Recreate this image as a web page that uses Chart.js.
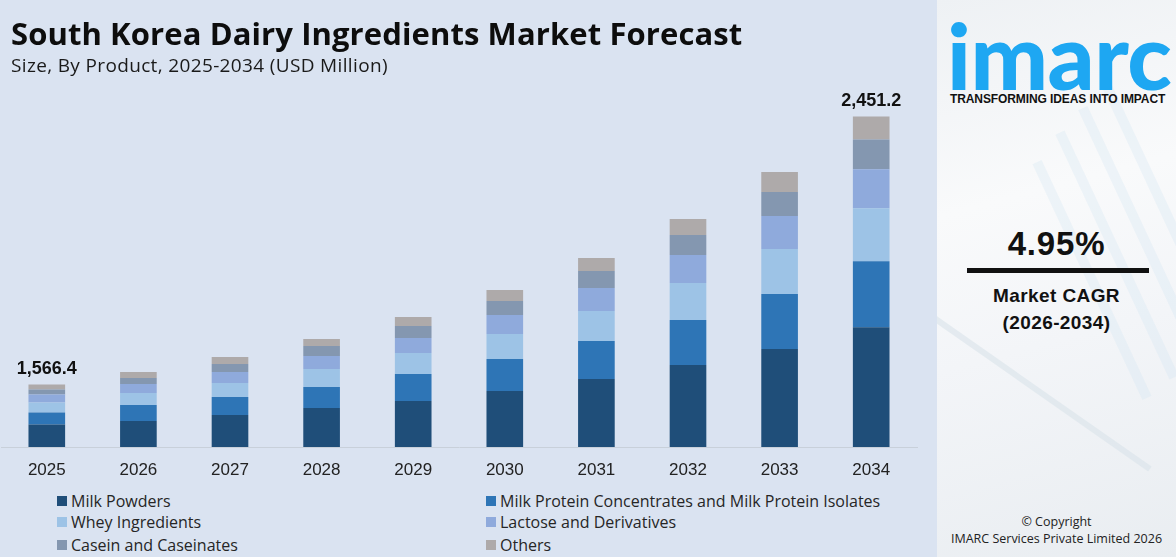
<!DOCTYPE html>
<html>
<head>
<meta charset="utf-8">
<script src="https://cdn.jsdelivr.net/npm/chart.js@4.4.1/dist/chart.umd.min.js"></script>
<style>
html,body{margin:0;padding:0;width:1176px;height:557px;overflow:hidden;background:#fff;font-family:"Liberation Sans",Arial,sans-serif;}
#left{position:absolute;left:0;top:0;width:937px;height:557px;background:#dae3f1;}
#chartWrap{position:absolute;left:0;top:0;width:937px;height:480px;}
#title{position:absolute;left:11px;top:18px;font-family:"Open Sans",sans-serif;font-weight:700;font-size:31px;line-height:1;color:#0d0d0d;white-space:nowrap;letter-spacing:0.1px;}
#subtitle{position:absolute;left:11px;top:56px;font-family:"Open Sans",sans-serif;font-size:19px;line-height:1;color:#1a1a1a;white-space:nowrap;letter-spacing:0.35px;}
.lg{position:absolute;height:20px;line-height:20px;font-family:"Open Sans",sans-serif;font-size:16px;color:#262626;white-space:nowrap;}
.lg i{position:absolute;left:0;top:5px;width:10px;height:10px;}
.lg span{position:absolute;left:14px;top:0;}
#right{position:absolute;left:937px;top:0;width:239px;height:557px;overflow:hidden;
  background:linear-gradient(165deg,#eef1f4 0%,#f9fafb 35%,#f3f5f8 60%,#e9edf1 100%);}
.deco{position:absolute;background:#cfe3f3;opacity:.3;}
#logo{position:absolute;left:10px;top:9px;font-family:"Lato","Roboto",sans-serif;font-weight:900;font-size:92px;line-height:1;color:#1ea7f2;letter-spacing:-0.5px;}
#tag{position:absolute;left:13px;top:92px;font-family:"Liberation Sans",Arial,sans-serif;font-weight:700;font-size:12px;color:#111;white-space:nowrap;letter-spacing:-0.1px;}
#cagr{position:absolute;left:0;width:239px;top:227px;text-align:center;font-weight:700;font-size:33px;line-height:1;color:#111;letter-spacing:0.8px;}
#bar{position:absolute;left:30px;top:268px;width:182px;height:5px;background:#111;}
#mk{position:absolute;left:0;width:239px;top:282px;text-align:center;font-weight:700;font-size:19px;line-height:27px;color:#111;letter-spacing:0.4px;}
#copy{position:absolute;left:0;width:239px;top:513px;text-align:center;font-family:"Open Sans",sans-serif;font-size:12.5px;line-height:17px;color:#222;}
</style>
</head>
<body>
<div id="left">
  <div id="chartWrap"><canvas id="c" width="937" height="480"></canvas></div>
  <div id="title">South Korea Dairy Ingredients Market Forecast</div>
  <div id="subtitle">Size, By Product, 2025-2034 (USD Million)</div>
  <div id="legend"></div>
</div>
<div id="right">
  <div class="deco" style="left:150px;top:150px;width:10px;height:260px;transform:rotate(-25deg);"></div>
  <div class="deco" style="left:175px;top:120px;width:10px;height:270px;transform:rotate(-25deg);"></div>
  <div class="deco" style="left:200px;top:95px;width:10px;height:280px;transform:rotate(-25deg);"></div>
  <div class="deco" style="left:225px;top:70px;width:10px;height:290px;transform:rotate(-25deg);"></div>
  <div class="deco" style="left:-60px;top:380px;width:300px;height:6px;background:#d9e2ea;transform:rotate(35deg);opacity:.6"></div>
  <div id="logo">imarc</div>
  <div id="tag">TRANSFORMING IDEAS INTO IMPACT</div>
  <div id="cagr">4.95%</div>
  <div id="bar"></div>
  <div id="mk">Market CAGR<br>(2026-2034)</div>
  <div id="copy">© Copyright<br>IMARC Services Private Limited 2026</div>
</div>
<script>
// ---- data (USD Million) ----
const years = ['2025','2026','2027','2028','2029','2030','2031','2032','2033','2034'];
const milkPowders  = [1434.4, 1445.8, 1465.6, 1488.7, 1511.8, 1544.8, 1584.4, 1630.6, 1683.4, 1754.9];
const milkProtein  = [39.6, 52.8, 59.4, 69.3, 89.1, 105.6, 125.4, 148.5, 181.5, 217.8];
const whey         = [33.0, 39.6, 46.2, 59.4, 69.3, 82.5, 99.0, 122.1, 148.5, 174.9];
const lactose      = [26.4, 29.7, 36.3, 42.9, 49.5, 62.7, 75.9, 92.4, 108.9, 128.7];
const casein       = [16.5, 19.8, 26.4, 33.0, 39.6, 46.2, 56.1, 66.0, 79.2, 99.0];
const others       = [16.5, 19.8, 23.1, 23.1, 29.7, 36.3, 42.9, 52.8, 66.0, 75.9];
const seriesNames  = ['Milk Powders','Milk Protein Concentrates and Milk Protein Isolates','Whey Ingredients','Lactose and Derivatives','Casein and Caseinates','Others'];
const showTotal    = [true,false,false,false,false,false,false,false,false,true];

// ---- styles ----
const seriesColors = ['#1f4e79','#2e75b6','#9dc3e6','#8faadc','#8497b0','#aeaaaa'];
const seriesData = [milkPowders, milkProtein, whey, lactose, casein, others];

const fmt = v => v.toLocaleString('en-US',{minimumFractionDigits:1,maximumFractionDigits:1});

const totalsPlugin = {
  id:'totals',
  afterDatasetsDraw(chart){
    const ctx = chart.ctx;
    const ds = chart.data.datasets;
    const topMeta = chart.getDatasetMeta(ds.length-1);
    ctx.save();
    ctx.font = 'bold 18px "Liberation Sans", Arial, sans-serif';
    ctx.fillStyle = '#111';
    ctx.textAlign = 'center';
    ctx.textBaseline = 'alphabetic';
    chart.data.labels.forEach((lab,i)=>{
      if(!showTotal[i]) return;
      const total = ds.reduce((s,d)=>s+d.data[i],0);
      const el = topMeta.data[i];
      ctx.fillText(fmt(Math.round(total*10)/10), el.x, el.y-10.5);
    });
    ctx.restore();
  }
};

const chart = new Chart(document.getElementById('c'),{
  type:'bar',
  data:{
    labels: years,
    datasets: seriesData.map((d,k)=>({label:seriesNames[k], data:d, backgroundColor:seriesColors[k], borderWidth:0}))
  },
  options:{
    responsive:false, animation:false,
    layout:{padding:{left:1,right:20,top:41,bottom:0}},
    datasets:{bar:{barPercentage:0.4,categoryPercentage:1.0,clip:0}},
    plugins:{legend:{display:false},tooltip:{enabled:false},title:{display:false}},
    scales:{
      x:{stacked:true,
         grid:{display:false,drawTicks:false},
         border:{display:true,color:'#c8d0da',width:1},
         ticks:{font:{family:'"Liberation Sans", Arial, sans-serif',size:17},color:'#222',padding:13},
         afterFit(s){s.height=33;}},
      y:{stacked:true,display:false,min:1360,max:2700}
    }
  },
  plugins:[totalsPlugin]
});

// HTML legend built from chart datasets
const legend = document.getElementById('legend');
const colX = [57, 486], rowY = [491, 512, 535];
chart.data.datasets.forEach((d,k)=>{
  const div = document.createElement('div');
  div.className='lg';
  div.style.left = colX[k%2]+'px';
  div.style.top = rowY[Math.floor(k/2)]+'px';
  div.innerHTML = '<i style="background:'+d.backgroundColor+'"></i><span></span>';
  div.querySelector('span').textContent = d.label;
  legend.appendChild(div);
});
</script>
</body>
</html>
